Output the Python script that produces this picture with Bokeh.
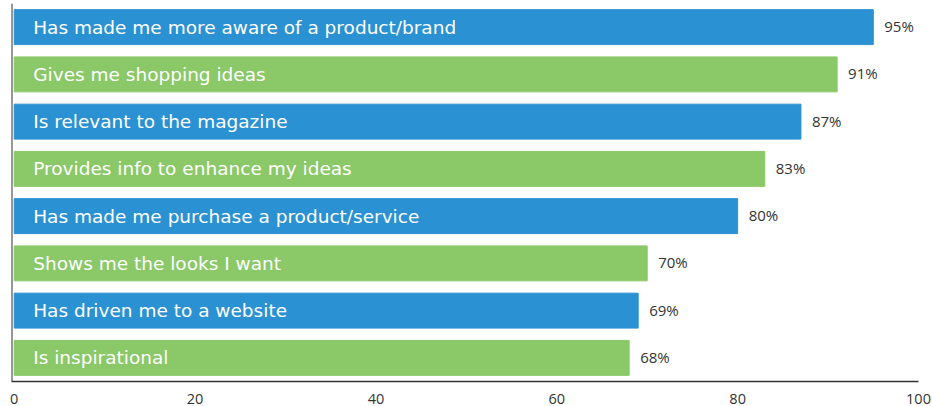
from bokeh.plotting import figure
from bokeh.models import ColumnDataSource, FactorRange, Range1d, Span, FixedTicker
from bokeh.core.properties import value
from bokeh.embed import file_html
from bokeh.resources import INLINE

categories = [
    "Has made me more aware of a product/brand",
    "Gives me shopping ideas",
    "Is relevant to the magazine",
    "Provides info to enhance my ideas",
    "Has made me purchase a product/service",
    "Shows me the looks I want",
    "Has driven me to a website",
    "Is inspirational",
]
values = [95, 91, 87, 83, 80, 70, 69, 68]
bar_colors = ["#2a91d3", "#8ac868", "#2a91d3", "#8ac868",
              "#2a91d3", "#8ac868", "#2a91d3", "#8ac868"]
pct_labels = [f"{v}%" for v in values]
x_ticks = [0, 20, 40, 60, 80, 100]

source = ColumnDataSource(dict(
    cat=categories, val=values, color=bar_colors, pct=pct_labels,
    zero=[0] * len(values),
))

p = figure(
    width=932, height=406,
    y_range=FactorRange(*reversed(categories), range_padding=0),
    x_range=Range1d(-0.3, 100),
    output_backend="svg", toolbar_location=None,
    min_border_left=11, min_border_right=14, min_border_top=3, min_border_bottom=25,
)

p.hbar(y="cat", left="zero", right="val", height=0.74, color="color", source=source)

p.text(x="zero", y="cat", text="cat", source=source, x_offset=19, y_offset=0,
       text_baseline="middle", text_align="left", text_color="white",
       text_font=value("DejaVu Sans"), text_font_size="18.5px")

p.text(x="val", y="cat", text="pct", source=source, x_offset=11, y_offset=-1,
       text_baseline="middle", text_align="left", text_color="#333333",
       text_font=value("Open Sans"), text_font_size="15px")

p.add_layout(Span(location=-0.3, dimension="height", line_color="#333333", line_width=2))

p.yaxis.visible = False
p.xgrid.visible = False
p.ygrid.visible = False
p.outline_line_color = None

ax = p.xaxis[0]
ax.ticker = FixedTicker(ticks=x_ticks)
ax.major_tick_line_color = None
ax.minor_tick_line_color = None
ax.axis_line_color = "#333333"
ax.axis_line_width = 1.5
ax.major_label_text_font = "Open Sans"
ax.major_label_text_font_size = "14.5px"
ax.major_label_text_color = "#333333"
ax.major_label_standoff = 6

open("out.html", "w").write(file_html(p, INLINE))
